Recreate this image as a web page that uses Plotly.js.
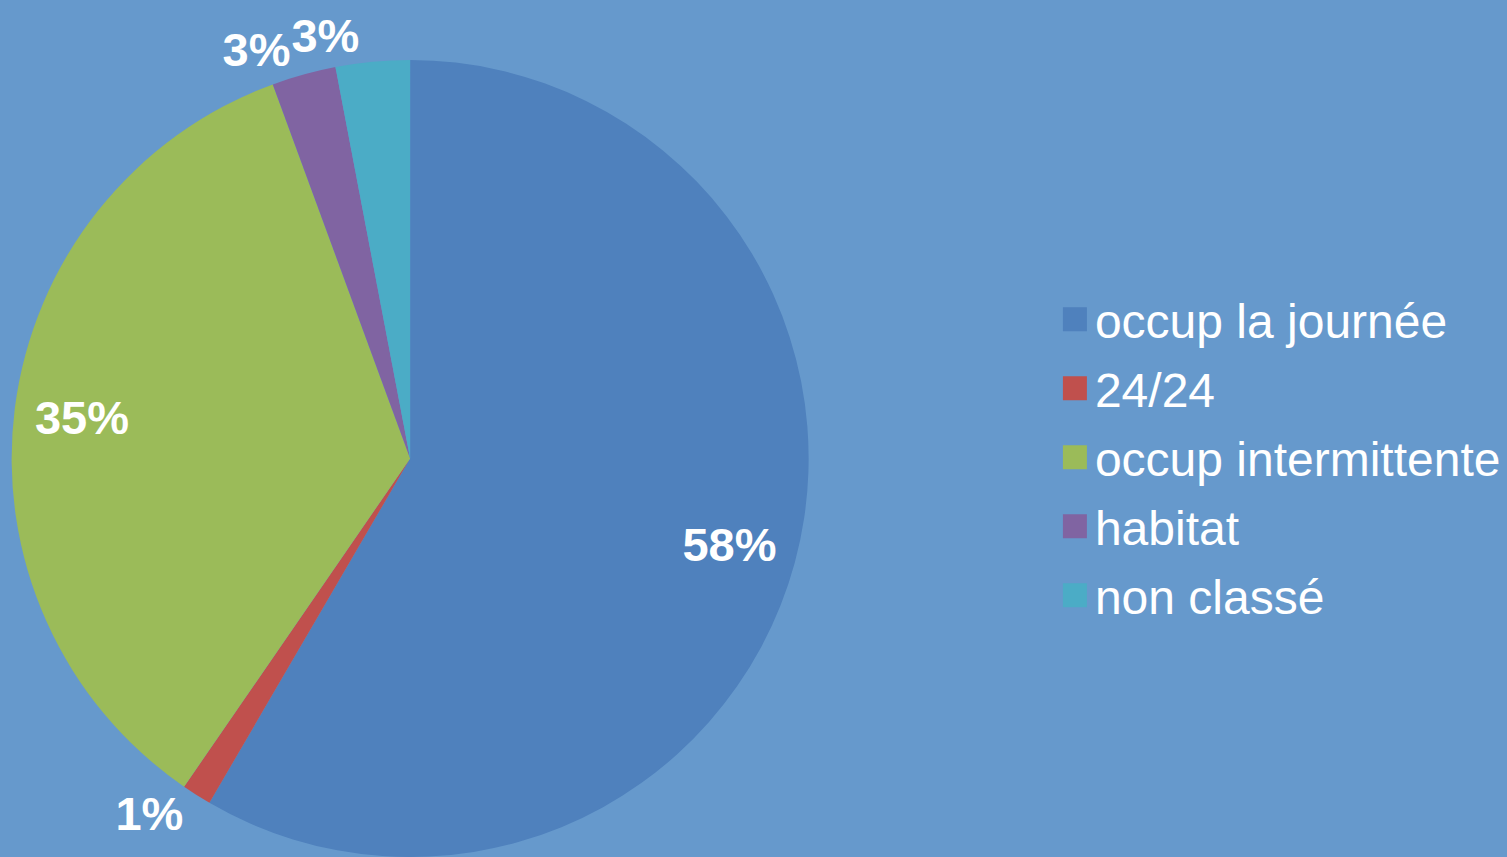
<!DOCTYPE html>
<html>
<head>
<meta charset="utf-8">
<script src="https://cdn.plot.ly/plotly-3.0.1.min.js"></script>
<style>html,body{margin:0;padding:0;background:#6699CC;}#chart{width:1507px;height:857px;}</style>
</head>
<body>
<div id="chart"></div>
<script>
const categories = ["occup la journée", "24/24", "occup intermittente", "habitat", "non classé"];
const values = [58.4, 1.2, 34.8, 2.6, 3.0];
const colors = ["#4F81BD", "#C0504D", "#9BBB59", "#8064A2", "#4BACC6"];
// label placement: the slice trace carries some labels, an overlaid transparent ring carries the rest
const slicePositions = ["none", "outside", "none", "outside", "none"];
const ringPositions = ["inside", "none", "inside", "none", "outside"];

const labelFont = {family: "Liberation Sans, Arial, sans-serif", size: 47, color: "#FFFFFF", weight: "bold"};
const pieDomain = {x: [0.0073, 0.537], y: [0, 0.93]};

const slices = {
  type: "pie",
  labels: categories,
  values: values,
  sort: false,
  direction: "clockwise",
  rotation: 0,
  marker: {colors: colors, line: {width: 0}},
  texttemplate: "%{percent:.0%}",
  textposition: slicePositions,
  textfont: labelFont,
  outsidetextfont: labelFont,
  domain: pieDomain
};

const ring = {
  type: "pie",
  labels: categories,
  values: values,
  sort: false,
  direction: "clockwise",
  rotation: 0,
  hole: 0.66,
  showlegend: false,
  marker: {colors: categories.map(() => "rgba(0,0,0,0)"), line: {width: 0}},
  texttemplate: "%{percent:.0%}",
  textposition: ringPositions,
  textfont: labelFont,
  insidetextfont: labelFont,
  outsidetextfont: labelFont,
  insidetextorientation: "horizontal",
  domain: pieDomain
};

const layout = {
  width: 1507, height: 857,
  margin: {l: 0, r: 0, t: 0, b: 0},
  paper_bgcolor: "#6699CC",
  plot_bgcolor: "#6699CC",
  showlegend: true,
  legend: {
    x: 0.7, y: 0.4665, xanchor: "left", yanchor: "middle",
    font: {family: "Liberation Sans, Arial, sans-serif", size: 48, color: "#FFFFFF"},
    bgcolor: "rgba(0,0,0,0)", itemwidth: 30
  }
};

Plotly.newPlot("chart", [slices, ring], layout, {displayModeBar: false, staticPlot: true}).then(function (gd) {
  // enlarge legend colour squares to match the reference
  gd.querySelectorAll(".legend .legendpoints path").forEach(function (p) {
    p.setAttribute("transform", "translate(20,0) scale(2)");
  });
  // widen the row spacing of the legend to match the reference
  const rows = Array.from(gd.querySelectorAll(".legend .traces"));
  const ys = rows.map(function (r) {
    const m = /translate\(([-\d.]+),\s*([-\d.]+)\)/.exec(r.getAttribute("transform") || "");
    return m ? [parseFloat(m[1]), parseFloat(m[2])] : [0, 0];
  });
  const mid = ys.reduce(function (s, v) { return s + v[1]; }, 0) / ys.length;
  const n = rows.length;
  rows.forEach(function (r, i) {
    r.setAttribute("transform", "translate(" + ys[i][0] + "," + (mid + (i - (n - 1) / 2) * 69) + ")");
  });
});
</script>
</body>
</html>
